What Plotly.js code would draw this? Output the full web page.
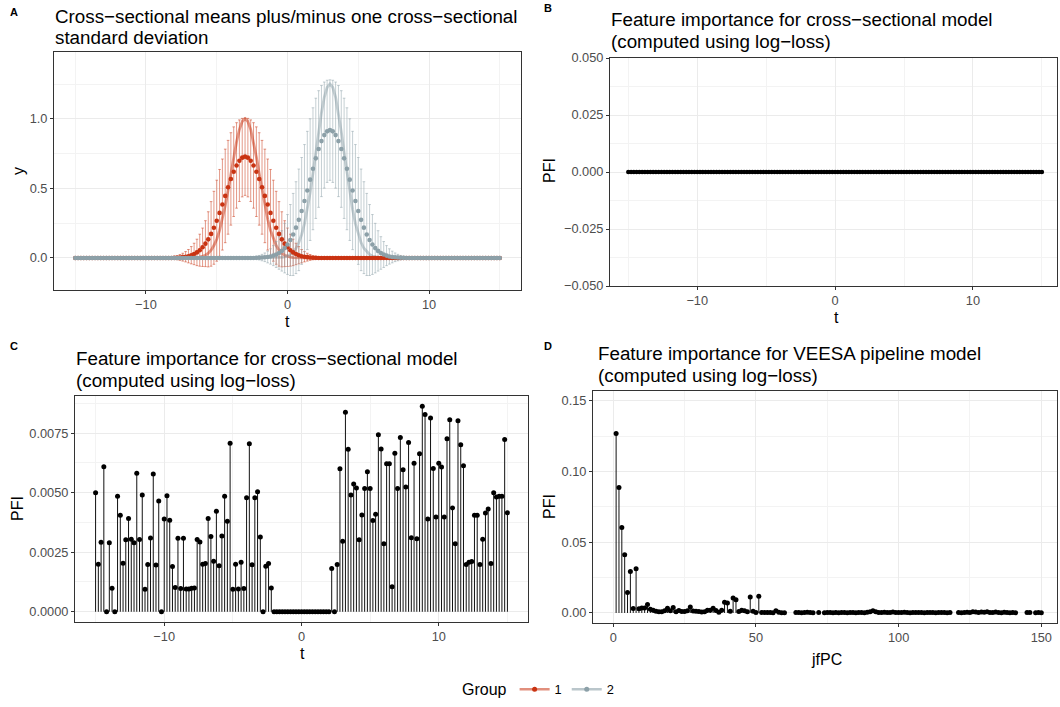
<!DOCTYPE html>
<html><head><meta charset="utf-8">
<script src="https://cdn.plot.ly/plotly-3.0.1.min.js"></script>
<style>html,body{margin:0;padding:0;background:#fff;}#chart{width:1060px;height:707px;}</style>
</head><body><div id="chart"></div>
<script>
// ---------- data ----------
const tGrid = [
-15,-14.8,-14.6,-14.4,-14.2,-14,-13.8,-13.6,-13.4,-13.2,
-13,-12.8,-12.6,-12.4,-12.2,-12,-11.8,-11.6,-11.4,-11.2,
-11,-10.8,-10.6,-10.4,-10.2,-10,-9.8,-9.6,-9.4,-9.2,
-9,-8.8,-8.6,-8.4,-8.2,-8,-7.8,-7.6,-7.4,-7.2,
-7,-6.8,-6.6,-6.4,-6.2,-6,-5.8,-5.6,-5.4,-5.2,
-5,-4.8,-4.6,-4.4,-4.2,-4,-3.8,-3.6,-3.4,-3.2,
-3,-2.8,-2.6,-2.4,-2.2,-2,-1.8,-1.6,-1.4,-1.2,
-1,-0.8,-0.6,-0.4,-0.2,0,0.2,0.4,0.6,0.8,
1,1.2,1.4,1.6,1.8,2,2.2,2.4,2.6,2.8,
3,3.2,3.4,3.6,3.8,4,4.2,4.4,4.6,4.8,
5,5.2,5.4,5.6,5.8,6,6.2,6.4,6.6,6.8,
7,7.2,7.4,7.6,7.8,8,8.2,8.4,8.6,8.8,
9,9.2,9.4,9.6,9.8,10,10.2,10.4,10.6,10.8,
11,11.2,11.4,11.6,11.8,12,12.2,12.4,12.6,12.8,
13,13.2,13.4,13.6,13.8,14,14.2,14.4,14.6,14.8,
15];

// Group 1: cross-sectional mean, sd, and template curve
const mean1 = [
0,0,0,0,0,0,0,0,0,0,
0,0,0,0,0,0,0,0,0,0,
0,0,0,0,0,0,0,0,0,0,
0,0,0,0,0,0.001,0.002,0.004,0.006,0.009,
0.013,0.020,0.029,0.040,0.056,0.077,0.103,0.134,0.173,0.217,
0.268,0.324,0.384,0.446,0.508,0.568,0.620,0.665,0.699,0.721,
0.728,0.721,0.699,0.665,0.620,0.568,0.508,0.446,0.384,0.324,
0.268,0.217,0.173,0.134,0.103,0.077,0.056,0.040,0.029,0.020,
0.013,0.009,0.006,0.004,0.002,0.001,0,0,0,0,
0,0,0,0,0,0,0,0,0,0,
0,0,0,0,0,0,0,0,0,0,
0,0,0,0,0,0,0,0,0,0,
0,0,0,0,0,0,0,0,0,0,
0,0,0,0,0,0,0,0,0,0,
0,0,0,0,0,0,0,0,0,0,
0];
const sd1 = [
0,0,0,0,0,0,0,0,0,0,
0,0,0,0,0,0,0,0,0,0,
0,0,0,0,0,0,0,0,0,0,
0.002,0.003,0.004,0.006,0.008,0.011,0.015,0.021,0.028,0.037,
0.048,0.062,0.077,0.095,0.115,0.138,0.165,0.198,0.232,0.262,
0.291,0.312,0.327,0.336,0.337,0.332,0.322,0.307,0.293,0.282,
0.278,0.282,0.293,0.307,0.322,0.332,0.337,0.336,0.327,0.312,
0.291,0.262,0.232,0.198,0.165,0.138,0.115,0.095,0.077,0.062,
0.048,0.037,0.028,0.021,0.015,0.011,0.008,0.006,0.004,0.003,
0.002,0,0,0,0,0,0,0,0,0,
0,0,0,0,0,0,0,0,0,0,
0,0,0,0,0,0,0,0,0,0,
0,0,0,0,0,0,0,0,0,0,
0,0,0,0,0,0,0,0,0,0,
0,0,0,0,0,0,0,0,0,0,
0];
const curve1 = [
0,0,0,0,0,0,0,0,0,0,
0,0,0,0,0,0,0,0,0,0,
0,0,0,0,0,0,0,0,0,0,
0,0,0,0,0,0,0,0,0,0,
0,0.001,0.002,0.003,0.006,0.011,0.020,0.034,0.056,0.089,
0.135,0.198,0.278,0.375,0.487,0.607,0.726,0.835,0.923,0.980,
1.000,0.980,0.923,0.835,0.726,0.607,0.487,0.375,0.278,0.198,
0.135,0.089,0.056,0.034,0.020,0.011,0.006,0.003,0.002,0.001,
0,0,0,0,0,0,0,0,0,0,
0,0,0,0,0,0,0,0,0,0,
0,0,0,0,0,0,0,0,0,0,
0,0,0,0,0,0,0,0,0,0,
0,0,0,0,0,0,0,0,0,0,
0,0,0,0,0,0,0,0,0,0,
0,0,0,0,0,0,0,0,0,0,
0];
// Group 2
const mean2 = [
0,0,0,0,0,0,0,0,0,0,
0,0,0,0,0,0,0,0,0,0,
0,0,0,0,0,0,0,0,0,0,
0,0,0,0,0,0,0,0,0,0,
0,0,0,0,0,0,0,0,0,0,
0,0,0,0,0,0,0,0,0,0,
0,0,0,0,0.001,0.002,0.003,0.005,0.007,0.011,
0.017,0.025,0.036,0.051,0.071,0.097,0.129,0.169,0.218,0.274,
0.338,0.409,0.485,0.563,0.641,0.716,0.783,0.840,0.883,0.910,
0.919,0.910,0.883,0.840,0.783,0.716,0.641,0.563,0.485,0.409,
0.338,0.274,0.218,0.169,0.129,0.097,0.071,0.051,0.036,0.025,
0.017,0.011,0.007,0.005,0.003,0.002,0.001,0,0,0,
0,0,0,0,0,0,0,0,0,0,
0,0,0,0,0,0,0,0,0,0,
0,0,0,0,0,0,0,0,0,0,
0];
const sd2 = [
0,0,0,0,0,0,0,0,0,0,
0,0,0,0,0,0,0,0,0,0,
0,0,0,0,0,0,0,0,0,0,
0,0,0,0,0,0,0,0,0,0,
0,0,0,0,0,0,0,0,0,0,
0,0,0,0,0,0,0,0,0,0,
0.002,0.004,0.005,0.008,0.011,0.016,0.023,0.031,0.042,0.055,
0.072,0.093,0.117,0.145,0.178,0.215,0.255,0.295,0.330,0.365,
0.384,0.406,0.425,0.437,0.438,0.432,0.419,0.399,0.381,0.367,
0.361,0.367,0.381,0.399,0.419,0.432,0.438,0.437,0.425,0.406,
0.384,0.365,0.330,0.295,0.255,0.215,0.178,0.145,0.117,0.093,
0.072,0.055,0.042,0.031,0.023,0.016,0.011,0.008,0.005,0.004,
0.002,0,0,0,0,0,0,0,0,0,
0,0,0,0,0,0,0,0,0,0,
0,0,0,0,0,0,0,0,0,0,
0];
const curve2 = [
0,0,0,0,0,0,0,0,0,0,
0,0,0,0,0,0,0,0,0,0,
0,0,0,0,0,0,0,0,0,0,
0,0,0,0,0,0,0,0,0,0,
0,0,0,0,0,0,0,0,0,0,
0,0,0,0,0,0,0,0,0,0,
0,0,0,0,0,0,0,0,0,0,
0,0.001,0.002,0.004,0.007,0.014,0.025,0.043,0.070,0.111,
0.169,0.247,0.348,0.469,0.609,0.758,0.908,1.044,1.154,1.225,
1.250,1.225,1.154,1.044,0.908,0.758,0.609,0.469,0.348,0.247,
0.169,0.111,0.070,0.043,0.025,0.014,0.007,0.004,0.002,0.001,
0,0,0,0,0,0,0,0,0,0,
0,0,0,0,0,0,0,0,0,0,
0,0,0,0,0,0,0,0,0,0,
0,0,0,0,0,0,0,0,0,0,
0];

// Panel B: PFI of cross-sectional model (all zero)
const pfiB = [
0,0,0,0,0,0,0,0,0,0, 0,0,0,0,0,0,0,0,0,0,
0,0,0,0,0,0,0,0,0,0, 0,0,0,0,0,0,0,0,0,0,
0,0,0,0,0,0,0,0,0,0, 0,0,0,0,0,0,0,0,0,0,
0,0,0,0,0,0,0,0,0,0, 0,0,0,0,0,0,0,0,0,0,
0,0,0,0,0,0,0,0,0,0, 0,0,0,0,0,0,0,0,0,0,
0,0,0,0,0,0,0,0,0,0, 0,0,0,0,0,0,0,0,0,0,
0,0,0,0,0,0,0,0,0,0, 0,0,0,0,0,0,0,0,0,0,
0,0,0,0,0,0,0,0,0,0, 0];

// Panel C: PFI of cross-sectional model
const pfiC = [
0.00500,0.00200,0.00292,0.00609,0,0.00290,0.00099,0,0.00485,0.00405,
0.00204,0.00302,0.00392,0.00304,0.00290,0.00582,0.00303,0.00490,0.00094,0.00198,
0.00310,0.00578,0.00196,0.00465,0,0.00390,0.00487,0.00384,0.00190,0.00102,
0.00309,0.00098,0.00309,0.00096,0.00096,0.00099,0.00100,0.00303,0.00293,0.00200,
0.00203,0.00392,0.00316,0.00212,0.00422,0.00193,0.00318,0.00485,0.00380,0.00708,
0.00094,0.00200,0.00096,0.00208,0.00098,0.00479,0.00705,0.00197,0.00479,0.00504,
0.00314,0,0.00191,0.00203,0.00100,0,0,0,0,0,
0,0,0,0,0,0,0,0,0,0,
0,0,0,0,0,0,0.00182,0,0.00198,0.00601,
0.00296,0.00838,0.00682,0.00490,0.00536,0.00520,0.00302,0.00406,0.00518,0.00588,
0.00518,0.00383,0.00409,0.00743,0.00683,0.00286,0.00622,0.00622,0.00105,0.00666,
0.00518,0.00732,0.00596,0.00524,0.00711,0.00311,0.00624,0.00307,0.00664,0.00863,
0.00828,0.00390,0.00814,0.00602,0.00398,0.00624,0.00608,0.00398,0.00726,0.00806,
0.00436,0.00286,0.00802,0.00701,0.00613,0.00198,0.00208,0.00211,0.00405,0.00405,
0.00198,0.00304,0.00415,0.00432,0.00203,0.00500,0.00482,0.00485,0.00485,0.00723,
0.00416];

// Panel D: PFI of VEESA pipeline model by jfPC
const jfpc = [
1,2,3,4,5,6,7,8,9,10, 11,12,13,14,15,16,17,18,19,20,
21,22,23,24,25,26,27,28,29,30, 31,32,33,34,35,36,37,38,39,40,
41,42,43,44,45,46,47,48,49,50, 51,52,53,54,55,56,57,58,59,60,
61,62,63,64,65,66,67,68,69,70, 71,72,73,74,75,76,77,78,79,80,
81,82,83,84,85,86,87,88,89,90, 91,92,93,94,95,96,97,98,99,100,
101,102,103,104,105,106,107,108,109,110, 111,112,113,114,115,116,117,118,119,120,
121,122,123,124,125,126,127,128,129,130, 131,132,133,134,135,136,137,138,139,140,
141,142,143,144,145,146,147,148,149,150];
const pfiD = [
0.1270,0.0888,0.0605,0.0412,0.0144,0.0294,0.0031,0.0313,0.0030,0.0035,
0.0035,0.0059,0.0026,0.0019,0.0012,0.0008,0.0009,0.0015,0.0033,0.0015,
0.0038,0.0008,0.0017,0.0010,0.0010,0.0016,0.0042,0.0014,0.0012,0.0010,
0.0007,0.0009,0.0020,0.0019,0.0033,0.0017,0.0005,0.0019,0.0075,0.0070,
0.0012,0.0106,0.0094,0.0010,0.0020,0.0016,0.0009,0.0113,0.0012,0.0003,
0.0118,0.0003,0.0003,0.0003,0.0004,0.0002,0.0015,0.0005,0.0002,0.0002,
null,null,null,0.0003,0.0004,0.0002,0.0003,0.0005,0.0003,0.0002,
null,0.0003,null,0.0002,0.0003,0.0004,0.0002,0.0003,0.0002,0.0004,
0.0003,0.0002,0.0004,0.0003,0.0002,0.0003,0.0004,0.0002,0.0005,0.0008,
0.0015,0.0009,0.0004,0.0003,0.0005,0.0004,0.0003,0.0006,0.0004,0.0003,
0.0004,0.0005,0.0003,0.0002,0.0004,0.0003,0.0004,0.0003,0.0002,0.0003,
0.0004,0.0003,0.0002,0.0003,0.0004,0.0003,0.0002,0.0003,null,null,
0.0003,0.0002,0.0004,0.0005,0.0003,0.0008,0.0006,0.0004,0.0007,0.0005,
0.0009,0.0004,0.0003,0.0006,0.0004,0.0002,0.0005,0.0003,0.0002,0.0004,
0.0002,null,null,null,0.0003,0.0004,null,0.0002,0.0003,0.0002];

const groupNames = ['1','2'];
const panelTitles = {
  A: ['Cross\u2212sectional means plus/minus one cross\u2212sectional', 'standard deviation'],
  B: ['Feature importance for cross\u2212sectional model', '(computed using log\u2212loss)'],
  C: ['Feature importance for cross\u2212sectional model', '(computed using log\u2212loss)'],
  D: ['Feature importance for VEESA pipeline model', '(computed using log\u2212loss)']
};

// ---------- styling ----------
const W = 1060, H = 707;
const FONT = 'Liberation Sans, Arial, Helvetica, sans-serif';
const RED = '#C93312', RED_T = 'rgba(201,51,18,0.5)';
const GRY = '#8CA0A8', GRY_T = 'rgba(140,160,168,0.5)';
const px = x => x / W;
const py = y => 1 - y / H;

function stems(xs, ys) {
  const X = [], Y = [];
  xs.forEach((x, i) => { if (ys[i] === null) return; X.push(x, x, null); Y.push(0, ys[i], null); });
  return {X, Y};
}

const traces = [];
// Panel A
traces.push({x: tGrid, y: curve1, mode: 'lines', line: {color: 'rgba(201,51,18,0.5)', width: 2.8}, xaxis: 'x', yaxis: 'y', showlegend: false, hoverinfo: 'skip'});
traces.push({x: tGrid, y: curve2, mode: 'lines', line: {color: 'rgba(140,160,168,0.5)', width: 2.8}, xaxis: 'x', yaxis: 'y', showlegend: false, hoverinfo: 'skip'});
traces.push({x: tGrid, y: mean1, mode: 'markers', marker: {color: 'rgba(0,0,0,0)', size: 1},
  error_y: {type: 'data', array: sd1, visible: true, color: RED_T, thickness: 1, width: 1.3}, xaxis: 'x', yaxis: 'y', showlegend: false});
traces.push({x: tGrid, y: mean2, mode: 'markers', marker: {color: 'rgba(0,0,0,0)', size: 1},
  error_y: {type: 'data', array: sd2, visible: true, color: GRY_T, thickness: 1, width: 1.3}, xaxis: 'x', yaxis: 'y', showlegend: false});
traces.push({x: tGrid, y: mean1, mode: 'markers', marker: {color: RED, size: 4.6}, xaxis: 'x', yaxis: 'y', showlegend: false});
traces.push({x: tGrid, y: mean2, mode: 'markers', marker: {color: GRY, size: 4.6}, xaxis: 'x', yaxis: 'y', showlegend: false});
// legend keys
traces.push({x: [null], y: [null], mode: 'lines+markers', name: groupNames[0], line: {color: 'rgba(201,51,18,0.55)', width: 2.5}, marker: {color: RED, size: 5}, xaxis: 'x', yaxis: 'y'});
traces.push({x: [null], y: [null], mode: 'lines+markers', name: groupNames[1], line: {color: 'rgba(140,160,168,0.6)', width: 2.5}, marker: {color: GRY, size: 5}, xaxis: 'x', yaxis: 'y'});
// Panel B
traces.push({x: tGrid, y: pfiB, mode: 'markers', marker: {color: '#000', size: 4.6}, xaxis: 'x2', yaxis: 'y2', showlegend: false, cliponaxis: false});
// Panel C
const sC = stems(tGrid, pfiC);
traces.push({x: sC.X, y: sC.Y, mode: 'lines', line: {color: '#111', width: 1}, xaxis: 'x3', yaxis: 'y3', showlegend: false, hoverinfo: 'skip'});
traces.push({x: tGrid, y: pfiC, mode: 'markers', marker: {color: '#000', size: 5}, xaxis: 'x3', yaxis: 'y3', showlegend: false});
// Panel D
const sD = stems(jfpc, pfiD);
traces.push({x: sD.X, y: sD.Y, mode: 'lines', line: {color: '#111', width: 1}, xaxis: 'x4', yaxis: 'y4', showlegend: false, hoverinfo: 'skip'});
traces.push({x: jfpc, y: pfiD, mode: 'markers', marker: {color: '#000', size: 5}, xaxis: 'x4', yaxis: 'y4', showlegend: false});

function axis(dom, range, dtick, minorD, fmt, anchor) {
  return {
    domain: dom, range: range, anchor: anchor, tick0: 0, dtick: dtick, tickformat: fmt,
    showline: true, mirror: true, linecolor: '#333333', linewidth: 1,
    ticks: 'outside', ticklen: 3, tickwidth: 1, tickcolor: '#333333',
    showgrid: true, gridcolor: '#EBEBEB', gridwidth: 1, zeroline: false,
    tickfont: {family: FONT, size: 12.8, color: '#4D4D4D'},
    minor: {dtick: minorD, tick0: 0, showgrid: true, gridcolor: '#F3F3F3', gridwidth: 1, ticks: ''},
    fixedrange: true
  };
}

const dA = {x: [px(54), px(521)], y: [py(290), py(52)]};
const dB = {x: [px(610), px(1057)], y: [py(286), py(58)]};
const dC = {x: [px(75), px(528)], y: [py(622), py(396)]};
const dD = {x: [px(593), px(1057)], y: [py(623), py(391)]};

const layout = {
  width: W, height: H, margin: {l: 0, r: 0, t: 0, b: 0},
  paper_bgcolor: '#fff', plot_bgcolor: '#fff',
  font: {family: FONT, color: '#000'},
  xaxis: axis(dA.x, [-16.5, 16.5], 10, 5, '', 'y'),
  yaxis: axis(dA.y, [-0.23, 1.48], 0.5, 0.25, '.1f', 'x'),
  xaxis2: axis(dB.x, [-16.33, 16.1], 10, 5, '', 'y2'),
  yaxis2: axis(dB.y, [-0.05, 0.05], 0.025, 0.0125, '.3f', 'x2'),
  xaxis3: axis(dC.x, [-16.5, 16.5], 10, 5, '', 'y3'),
  yaxis3: axis(dC.y, [-0.00043, 0.00906], 0.0025, 0.00125, '.4f', 'x3'),
  xaxis4: axis(dD.x, [-7.1, 155.5], 50, 25, '', 'y4'),
  yaxis4: axis(dD.y, [-0.0071, 0.157], 0.05, 0.025, '.2f', 'x4'),
  showlegend: true,
  legend: {orientation: 'h', x: 0.509, xanchor: 'center', y: py(690), yanchor: 'middle',
    title: {text: 'Group', side: 'left', font: {family: FONT, size: 16, color: '#000'}},
    font: {family: FONT, size: 12.8, color: '#000'}, itemwidth: 30, bgcolor: 'rgba(0,0,0,0)'},
  annotations: []
};

function ann(text, x, y, opts) {
  return Object.assign({text: text, x: px(x), y: py(y), xref: 'paper', yref: 'paper', showarrow: false,
    xanchor: 'left', yanchor: 'middle', font: {family: FONT, size: 18.8, color: '#000'}}, opts || {});
}
const A = layout.annotations;
// panel tags
const tagf = {family: FONT, size: 11, color: '#000'};
A.push(ann('<b>A</b>', 8, 12, {font: tagf}));
A.push(ann('<b>B</b>', 542, 8, {font: tagf}));
A.push(ann('<b>C</b>', 8, 346, {font: tagf}));
A.push(ann('<b>D</b>', 542, 346, {font: tagf}));
// titles
A.push(ann(panelTitles.A[0], 53, 16)); A.push(ann(panelTitles.A[1], 53, 37));
A.push(ann(panelTitles.B[0], 609, 20)); A.push(ann(panelTitles.B[1], 609, 41));
A.push(ann(panelTitles.C[0], 74, 358)); A.push(ann(panelTitles.C[1], 74, 380));
A.push(ann(panelTitles.D[0], 596, 353)); A.push(ann(panelTitles.D[1], 596, 375));
// axis titles
const axf = {family: FONT, size: 16, color: '#000'};
A.push(ann('t', 287, 321, {xanchor: 'center', font: axf}));
A.push(ann('y', 18, 171, {xanchor: 'center', textangle: -90, font: axf}));
A.push(ann('t', 836, 317, {xanchor: 'center', font: axf}));
A.push(ann('PFI', 549, 171, {xanchor: 'center', textangle: -90, font: axf}));
A.push(ann('t', 302, 653, {xanchor: 'center', font: axf}));
A.push(ann('PFI', 17, 509, {xanchor: 'center', textangle: -90, font: axf}));
A.push(ann('jfPC', 826, 659, {xanchor: 'center', font: axf}));
A.push(ann('PFI', 549, 507, {xanchor: 'center', textangle: -90, font: axf}));

Plotly.newPlot('chart', traces, layout, {staticPlot: true, displayModeBar: false});
</script></body></html>
